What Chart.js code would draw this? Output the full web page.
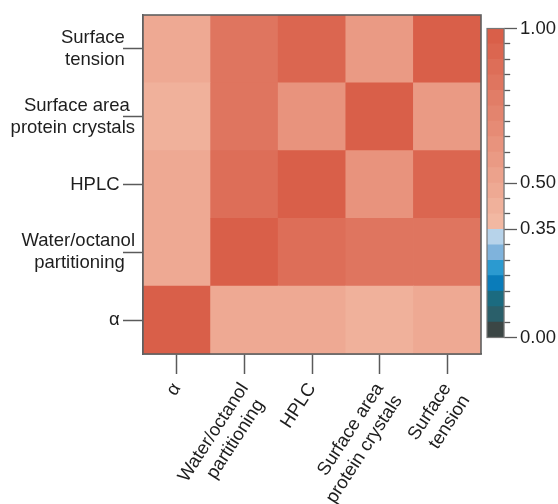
<!DOCTYPE html>
<html>
<head>
<meta charset="utf-8">
<script src="https://cdn.jsdelivr.net/npm/chart.js@4"></script>
<style>
  html, body { margin: 0; padding: 0; background: #ffffff; }
  body { width: 558px; height: 504px; position: relative; overflow: hidden; }
  #mainWrap { position: absolute; left: 0; top: 0; width: 482px; height: 504px; }
  #barWrap { position: absolute; left: 480px; top: 0; width: 78px; height: 504px; }
</style>
</head>
<body>
<div id="mainWrap"><canvas id="heat" width="482" height="504"></canvas></div>
<div id="barWrap"><canvas id="cbar" width="78" height="504"></canvas></div>
<script>
// ---------------- DATA ----------------
// categories (x left->right, y bottom->top)
const categories = ['α', 'Water/octanol partitioning', 'HPLC', 'Surface area protein crystals', 'Surface tension'];
const categoryLines = [['α'], ['Water/octanol', 'partitioning'], ['HPLC'], ['Surface area', 'protein crystals'], ['Surface', 'tension']];

// correlation rows (row order = categories, columns order = categories)
const corrAlpha        = [1.00, 0.47, 0.47, 0.42, 0.47];
const corrWater        = [0.47, 1.00, 0.88, 0.82, 0.82];
const corrHPLC         = [0.47, 0.88, 1.00, 0.62, 0.92];
const corrSurfArea     = [0.42, 0.82, 0.62, 1.00, 0.57];
const corrSurfTension  = [0.47, 0.82, 0.92, 0.57, 1.00];
const matrixRows = [corrAlpha, corrWater, corrHPLC, corrSurfArea, corrSurfTension];

// colour bar
const colorbarEdges = [0.00, 0.05, 0.10, 0.15, 0.20, 0.25, 0.30, 0.35, 0.40, 0.45, 0.50,
                       0.55, 0.60, 0.65, 0.70, 0.75, 0.80, 0.85, 0.90, 0.95, 1.00];
const colorbarLabels = [0.00, 0.35, 0.50, 1.00];
const bandColors = ['#3b4645', '#2a5f6a', '#1b6b80', '#0a7cba', '#2b9ad0', '#7fb3dc', '#b7d3ea',
                    '#f2b8a2', '#f0b19b', '#eea993', '#eca28c', '#ea9a84', '#e8937d', '#e68b75',
                    '#e3846e', '#e17d67', '#df755f', '#dd6e58', '#db6650', '#d95f49'];

// ---------------- STYLE ----------------
const FONT = { family: '"Liberation Sans", Arial, Helvetica, sans-serif', size: 18.5, lineHeight: 1.2 };
const TEXT = '#1e1e1e';
const AXIS = '#5a5a5a';
// trailing spaces used to emulate centred multi-line labels
const yLabelPad = { 'Surface': 2, 'tension': 2, 'Surface area': 1, 'protein crystals': 0, 'HPLC': 3,
                    'Water/octanol': 0, 'partitioning': 2, 'α': 3 };
const xLabelPad = { 'partitioning': 1 };
const pad = (s, map) => s + ' '.repeat(map[s] || 0);

function colorFor(v) {
  const idx = Math.min(bandColors.length - 1, Math.floor(v / 0.05 + 1e-6));
  return bandColors[idx];
}

const frame = {
  id: 'frame',
  afterDatasetsDraw(chart, args, opts) {
    const a = chart.chartArea, ctx = chart.ctx;
    ctx.save();
    ctx.strokeStyle = opts.color;
    ctx.lineWidth = opts.width;
    ctx.strokeRect(a.left, a.top, a.right - a.left, a.bottom - a.top);
    ctx.restore();
  }
};

// ---------------- HEATMAP ----------------
const heatDatasets = matrixRows.map((row, r) => ({
  label: categories[r],
  data: row.map(() => [r, r + 1]),
  backgroundColor: row.map(v => colorFor(v)),
  borderWidth: 0,
  grouped: false,
  barPercentage: 1.0,
  categoryPercentage: 1.0
}));

new Chart(document.getElementById('heat'), {
  type: 'bar',
  data: { labels: categories, datasets: heatDatasets },
  options: {
    responsive: false,
    animation: false,
    layout: { padding: { left: 0, top: 15, right: 1, bottom: 0 } },
    plugins: { legend: { display: false }, tooltip: { enabled: false }, frame: { color: '#606060', width: 1.6 } },
    scales: {
      x: {
        type: 'category',
        offset: true,
        grid: { display: true, offset: false, drawOnChartArea: false, drawTicks: true, tickLength: 20, tickColor: AXIS, tickWidth: 1.5 },
        border: { display: true, color: '#606060', width: 1.6 },
        ticks: {
          font: FONT, color: TEXT, padding: 5, autoSkip: false,
          minRotation: 57, maxRotation: 57,
          callback: (v, i) => categoryLines[i].map(s => pad(s, xLabelPad))
        },
        afterFit: s => { s.height = 150; s.paddingLeft = 0; s.paddingRight = 0; }
      },
      y: {
        type: 'linear', min: 0, max: categories.length,
        grid: { display: true, drawOnChartArea: false, drawTicks: true, tickLength: 20, tickColor: AXIS, tickWidth: 1.5 },
        border: { display: true, color: '#606060', width: 1.6 },
        afterBuildTicks: s => { s.ticks = categories.map((c, i) => ({ value: i + 0.5 })); },
        ticks: {
          font: FONT, color: TEXT, padding: -12, autoSkip: false,
          callback: v => categoryLines[Math.floor(v)].map(s => pad(s, yLabelPad))
        },
        afterFit: s => { s.width = 143; }
      }
    }
  },
  plugins: [frame]
});

// ---------------- COLOUR BAR ----------------
const barDatasets = bandColors.map((c, i) => ({
  data: [[colorbarEdges[i], colorbarEdges[i + 1]]],
  backgroundColor: c,
  borderWidth: 0,
  grouped: false,
  barPercentage: 1.0,
  categoryPercentage: 1.0
}));
const isMajor = v => colorbarLabels.some(l => Math.abs(l - v) < 1e-6);

new Chart(document.getElementById('cbar'), {
  type: 'bar',
  data: { labels: [''], datasets: barDatasets },
  options: {
    responsive: false,
    animation: false,
    layout: { padding: { left: 7, top: 28.5, right: 0, bottom: 166.5 } },
    plugins: { legend: { display: false }, tooltip: { enabled: false }, frame: { color: '#777777', width: 1.2 } },
    scales: {
      x: { display: false, offset: true },
      y: {
        position: 'right', min: 0, max: 1,
        afterBuildTicks: s => { s.ticks = colorbarEdges.map(v => ({ value: v })); },
        grid: {
          drawOnChartArea: false, drawTicks: true, tickLength: 13, tickColor: AXIS, tickWidth: 1.3,
          tickBorderDash: ctx => (ctx.tick && isMajor(ctx.tick.value)) ? [] : [6, 40]
        },
        border: { display: true, color: '#777777', width: 1.2 },
        ticks: {
          font: FONT, color: TEXT, padding: 3, autoSkip: false,
          callback: v => isMajor(v) ? v.toFixed(2) : ''
        },
        afterFit: s => { s.width = 54; }
      }
    }
  },
  plugins: [frame]
});
</script>
</body>
</html>
